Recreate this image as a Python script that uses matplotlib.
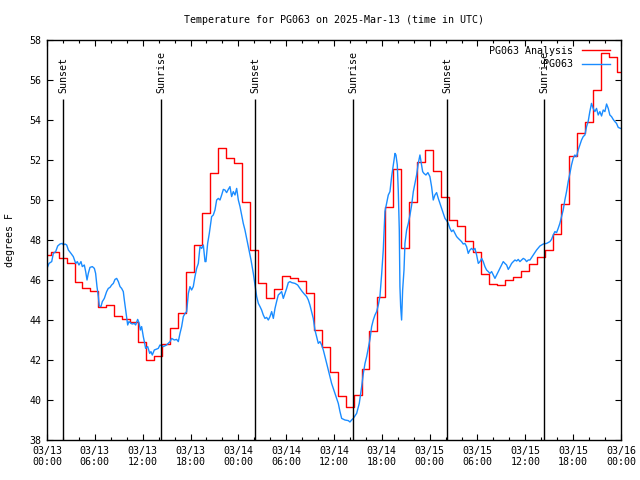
import numpy as np
import matplotlib.pyplot as plt

# hourly analysis values (PG063 Analysis), hour 0 .. 72 UTC from 03/13 00:00
red_hourly = [
    47.25, 47.42, 47.08, 46.83, 45.88, 45.58, 45.47, 44.63, 44.75, 44.20,
    44.05, 43.88, 42.88, 42.00, 42.18, 42.78, 43.58, 44.35, 46.38, 47.75,
    49.33, 51.33, 52.62, 52.10, 51.83, 49.92, 47.50, 45.83, 45.08, 45.53,
    46.20, 46.08, 45.95, 45.33, 43.50, 42.63, 41.38, 40.22, 39.67, 40.25,
    41.55, 43.47, 45.15, 49.67, 51.55, 47.58, 49.90, 51.92, 52.50, 51.45,
    50.15, 49.00, 48.70, 47.95, 47.42, 46.30, 45.80, 45.75, 46.00, 46.13,
    46.47, 46.80, 47.13, 47.50, 48.28, 49.80, 52.20, 53.33, 53.92, 55.50,
    57.37, 57.15, 56.42,
]

# station observations (PG063)
blue_hours = [
    0.00, 0.25, 0.59, 0.79, 1.09, 1.34, 1.63, 1.92, 2.05, 2.26, 2.47, 2.68,
    3.01, 3.30, 3.60, 3.80, 4.01, 4.26, 4.43, 4.68, 4.85, 5.02, 5.18, 5.39,
    5.69, 5.94, 6.10, 6.27, 6.44, 6.56, 6.77, 6.94, 7.19, 7.48, 7.69, 7.90,
    8.11, 8.32, 8.53, 8.74, 8.95, 9.16, 9.36, 9.57, 9.70, 9.87, 9.99, 10.12,
    10.28, 10.54, 10.70, 10.95, 11.12, 11.37, 11.54, 11.71, 11.87, 12.08, 12.21, 12.37,
    12.63, 12.88, 13.04, 13.21, 13.46,
    13.96, 14.17, 14.59, 15.00, 15.43, 15.64, 15.97, 16.26, 16.47, 16.68, 16.89, 17.10,
    17.31, 17.52, 17.73, 17.93, 18.14, 18.35, 18.56, 18.77, 18.98, 19.19, 19.40, 19.61,
    19.82, 19.94, 20.15, 20.36, 20.65, 20.86, 21.07, 21.28, 21.49, 21.70, 21.91, 22.12,
    22.32, 22.53, 22.74, 22.95, 23.16, 23.37, 23.58, 23.79, 24.00, 24.21, 24.41, 24.62,
    24.83, 25.25, 25.59, 25.88, 26.09, 26.30, 26.51, 26.72, 26.92, 27.13, 27.34, 27.55,
    27.76, 27.97, 28.18, 28.39, 28.60, 28.80, 29.01, 29.22, 29.43, 29.64, 29.85, 30.06,
    30.27, 30.48, 30.69, 31.11, 31.44, 31.73, 32.02, 32.27, 32.57, 32.78, 32.98, 33.19,
    33.40, 33.61, 33.82, 34.03, 34.24, 34.45, 34.66, 34.87, 35.08, 35.28, 35.49, 35.70,
    35.91, 36.12, 36.33, 36.54, 36.75, 36.96, 37.37, 37.79, 38.00, 38.21,
    38.42, 38.84, 39.17, 39.47, 39.68, 39.89, 40.10, 40.30,
    40.51, 40.72, 40.93, 41.14, 41.35, 41.56, 41.76, 41.97, 42.18, 42.39, 42.60, 42.81,
    43.02, 43.23, 43.44, 43.65, 43.77, 43.94, 44.06, 44.19, 44.27, 44.36, 44.48, 44.61,
    44.78, 44.90, 45.11, 45.32, 45.53, 45.74, 45.95, 46.15, 46.36, 46.57, 46.78, 46.91,
    47.12, 47.28, 47.53, 47.78, 48.03, 48.24, 48.45, 48.66, 48.87, 49.08,
    49.29, 49.50, 49.71, 49.92, 50.13, 50.33, 50.54, 50.75, 50.96, 51.17, 51.38, 51.59,
    51.80, 52.00, 52.21, 52.42, 52.63, 52.84, 53.05, 53.26, 53.47, 53.68, 53.89, 54.10,
    54.31, 54.52, 54.72, 54.93, 55.14, 55.35, 55.56, 55.77, 55.98, 56.19, 56.40, 56.61,
    56.81, 57.02, 57.23, 57.44, 57.65, 57.86, 58.07, 58.28, 58.49, 58.70, 58.91, 59.11,
    59.32, 59.53, 59.74, 59.95, 60.16, 60.37,
    60.58, 61.00, 61.41, 61.83, 62.25, 62.67, 63.08, 63.29, 63.50, 63.71, 63.92, 64.12,
    64.33, 64.54, 64.75, 64.96, 65.17, 65.38, 65.59, 65.79, 66.00, 66.21, 66.42, 66.63,
    66.84, 67.05, 67.26, 67.47, 67.68, 67.88, 68.09, 68.30, 68.51, 68.72, 68.93, 69.14,
    69.35, 69.56, 69.77, 69.98, 70.19, 70.40, 70.60, 70.81, 71.02, 71.23, 71.44, 71.65,
    71.94,
]
blue_temps = [
    46.58, 46.83, 46.92, 47.33, 47.42, 47.70, 47.80, 47.83, 47.75, 47.80, 47.75, 47.50,
    47.33, 47.17, 46.83, 46.92, 46.75, 46.92, 46.67, 46.75, 46.42, 46.00, 46.33, 46.63,
    46.67, 46.58, 46.33, 45.67, 45.17, 44.70, 44.67, 44.92, 45.08, 45.42, 45.58, 45.63,
    45.75, 45.83, 46.03, 46.08, 45.92, 45.67, 45.58, 45.42, 45.00, 44.50, 44.13, 43.75,
    43.92, 43.83, 43.80, 43.83, 43.75, 44.03, 43.87, 43.50, 43.67, 43.17, 42.92, 42.58,
    42.67, 42.33, 42.42, 42.25, 42.50,
    42.58, 42.75, 42.67, 42.75, 42.92, 43.08, 43.00, 43.03, 42.92, 43.33, 43.67, 44.17,
    44.33, 44.42, 45.33, 45.67, 45.50, 45.67, 46.17, 46.58, 46.83, 47.67, 47.58, 47.75,
    46.92, 46.92, 47.83, 48.33, 49.17, 49.25, 49.50, 50.00, 50.08, 50.00, 50.25, 50.53,
    50.50, 50.37, 50.53, 50.67, 50.17, 50.42, 50.25, 50.58, 50.00, 49.67, 49.25, 48.83,
    48.50, 47.67, 47.00, 46.33, 45.75, 45.17, 44.83, 44.67, 44.50, 44.25, 44.08, 44.13,
    44.00, 44.17, 44.42, 44.08, 44.58, 44.92, 45.25, 45.33, 45.42, 45.08, 45.33, 45.58,
    45.87, 45.92, 45.87, 45.83, 45.75, 45.58, 45.42, 45.30, 45.17, 45.00, 44.75, 44.42,
    44.08, 43.50, 43.17, 42.83, 42.92, 42.75, 42.50, 42.17, 41.83, 41.50, 41.17, 40.83,
    40.58, 40.33, 40.08, 39.83, 39.42, 39.08, 39.00, 38.97, 38.90, 39.00,
    39.08, 39.33, 39.83, 40.67, 41.33, 41.83, 42.17, 42.58,
    43.03, 43.67, 44.00, 44.25, 44.42, 44.75, 45.17, 46.25, 47.50, 49.42, 49.83, 50.25,
    50.42, 51.17, 51.75, 52.33, 52.25, 51.75, 50.50, 48.50, 45.67, 44.67, 44.00, 45.50,
    46.50, 47.83, 48.50, 48.83, 49.25, 49.75, 50.42, 50.83, 51.25, 51.83, 52.25, 51.92,
    51.42, 51.33, 51.25, 51.37, 51.17, 50.67, 50.00, 50.25, 50.37, 50.08,
    49.83, 49.58, 49.33, 49.08, 48.97, 48.83, 48.58, 48.42, 48.50, 48.33, 48.17, 48.08,
    48.00, 47.92, 47.80, 47.83, 47.67, 47.33, 47.50, 47.58, 47.50, 47.58, 47.25, 46.83,
    46.92, 47.08, 46.92, 46.67, 46.50, 46.42, 46.33, 46.42, 46.25, 46.08, 46.25, 46.42,
    46.58, 46.75, 46.92, 46.83, 46.75, 46.53, 46.67, 46.83, 46.92, 47.00, 46.95, 47.03,
    46.92, 47.00, 47.08, 47.03, 46.92, 47.00,
    47.00, 47.25, 47.50, 47.70, 47.80, 47.83, 47.92, 48.03, 48.25, 48.42, 48.37, 48.58,
    48.83, 49.17, 49.50, 50.00, 50.42, 50.92, 51.33, 51.75, 52.08, 52.25, 52.17, 52.50,
    52.75, 53.00, 53.17, 53.25, 53.67, 53.92, 54.42, 54.83, 54.58, 54.42, 54.58, 54.25,
    54.42, 54.20, 54.50, 54.42, 54.80, 54.58, 54.25, 54.17, 54.03, 53.92, 53.83, 53.63,
    53.58,
]

sun_names = ['Sunset', 'Sunrise', 'Sunset', 'Sunrise', 'Sunset', 'Sunrise']
sun_hours = [2.05, 14.35, 26.15, 38.4, 50.2, 62.4]

tick_hours = list(range(0, 73, 6))
tick_labels = ['03/13\n00:00', '03/13\n06:00', '03/13\n12:00', '03/13\n18:00',
               '03/14\n00:00', '03/14\n06:00', '03/14\n12:00', '03/14\n18:00',
               '03/15\n00:00', '03/15\n06:00', '03/15\n12:00', '03/15\n18:00',
               '03/16\n00:00']

plt.rcParams['font.family'] = ['DejaVu Sans Mono']
plt.rcParams['font.size'] = 7.2

fig = plt.figure(figsize=(6.4, 4.8), dpi=100)
ax = fig.add_axes([47/640, 40/480, 574/640, 400/480])

# analysis is hourly, steps change a bit before each hour
edges = np.clip(np.arange(len(red_hourly) + 1) - 0.55, 0, 72)
xs = np.append(edges[:-1], edges[-1])
ys = np.append(red_hourly, red_hourly[-1])
ax.step(xs, ys, where='post', color='#ff0000', lw=1, label='PG063 Analysis')
ax.plot(blue_hours, blue_temps, color='#1a8cff', lw=1, label='PG063')

ax.vlines(sun_hours, 38, 55.05, color='black', lw=1)
for t, name in zip(sun_hours, sun_names):
    ax.text(t, 55.35, name, rotation=90, ha='center', va='bottom')

ax.set_xlim(0, 72)
ax.set_ylim(38, 58)
ax.set_xticks(tick_hours)
ax.set_xticklabels(tick_labels)
ax.set_xticks(range(0, 73, 2), minor=True)
ax.set_yticks(range(38, 59, 2))
ax.tick_params(which='both', direction='in', top=True, right=True, width=0.8)
ax.tick_params(which='major', length=4, pad=4)
ax.tick_params(which='minor', length=2)
for s in ax.spines.values():
    s.set_linewidth(1)

ax.legend(loc='upper right', bbox_to_anchor=(0.981, 0.985), frameon=False,
          markerfirst=False, handlelength=2.8, handletextpad=0.9,
          labelspacing=0.35, borderpad=0, borderaxespad=0)

fig.text(334/640, 1 - 20/480, 'Temperature for PG063 on 2025-Mar-13 (time in UTC)',
         ha='center', va='center')
fig.text(10/640, 0.5, 'degrees F', rotation=90, ha='center', va='center')

fig.savefig('out.png', dpi=100)
